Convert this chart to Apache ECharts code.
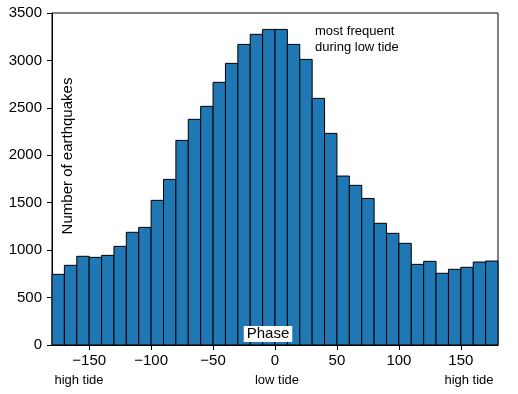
<!DOCTYPE html>
<html>
<head>
<meta charset="utf-8">
<script src="https://cdn.jsdelivr.net/npm/echarts@6/dist/echarts.min.js"></script>
<style>
html,body{margin:0;padding:0;background:#fff;}
#c{width:518px;height:394px;}
</style>
</head>
<body>
<div id="c"></div>
<script>
const binEdges = [-180,-170,-160,-150,-140,-130,-120,-110,-100,-90,-80,-70,-60,-50,-40,-30,-20,-10,0,10,20,30,40,50,60,70,80,90,100,110,120,130,140,150,160,170,180];
const counts = [745,840,935,924,945,1040,1188,1240,1525,1746,2157,2379,2516,2769,2969,3169,3275,3327,3327,3169,3011,2600,2231,1781,1683,1545,1283,1177,1072,850,882,756,798,819,875,885];
const xTicks = [-150,-100,-50,0,50,100,150];
const yTicks = [0,500,1000,1500,2000,2500,3000,3500];
const yAxisTitle = 'Number of earthquakes';
const xAxisTitle = 'Phase';
const annotation = ['most frequent', 'during low tide'];
const phaseLabels = ['high tide', 'low tide', 'high tide'];

const data = counts.map((c, i) => [binEdges[i], binEdges[i + 1], c]);
const FONT = '"Liberation Sans", Arial, Helvetica, sans-serif';

const chart = echarts.init(document.getElementById('c'), null, {renderer: 'canvas'});
chart.setOption({
  animation: false,
  backgroundColor: '#fff',
  grid: {left: 52, right: 20, top: 13, bottom: 49, show: true, borderColor: '#000', borderWidth: 1, backgroundColor: 'transparent'},
  xAxis: {
    type: 'value', min: binEdges[0], max: binEdges[binEdges.length - 1],
    splitLine: {show: false},
    axisLine: {show: true, onZero: false, lineStyle: {color: '#000', width: 1}},
    axisTick: {show: true, length: 5, lineStyle: {color: '#000'}, customValues: xTicks},
    axisLabel: {color: '#000', fontSize: 15, fontFamily: FONT, margin: 8, customValues: xTicks,
      formatter: v => String(v).replace('-', '\u2212')}
  },
  yAxis: {
    type: 'value', min: yTicks[0], max: yTicks[yTicks.length - 1], interval: 500,
    splitLine: {show: false},
    axisLine: {show: true, onZero: false, lineStyle: {color: '#000', width: 1}},
    axisTick: {show: true, length: 5, lineStyle: {color: '#000'}, customValues: yTicks},
    axisLabel: {color: '#000', fontSize: 15, fontFamily: FONT, margin: 10, customValues: yTicks,
      formatter: v => String(v)}
  },
  series: [{
    type: 'custom',
    data: data,
    encode: {x: [0, 1], y: 2},
    renderItem: function (params, api) {
      const p0 = api.coord([api.value(0), api.value(2)]);
      const p1 = api.coord([api.value(1), 0]);
      return {
        type: 'rect',
        shape: {x: p0[0], y: p0[1], width: p1[0] - p0[0], height: p1[1] - p0[1]},
        style: {fill: '#1f77b4', stroke: '#000', lineWidth: 1}
      };
    }
  }],
  graphic: [
    {type: 'text', x: 68, y: 156, rotation: Math.PI / 2, z: 100,
      style: {text: yAxisTitle, fontSize: 15, fontFamily: FONT, fill: '#000', align: 'center', verticalAlign: 'middle'}},
    {type: 'text', x: 268, y: 334, z: 100,
      style: {text: xAxisTitle, fontSize: 15, fontFamily: FONT, fill: '#000', align: 'center', verticalAlign: 'middle',
        backgroundColor: '#fff', padding: [1, 3, 0, 3]}},
    {type: 'text', x: 315, y: 31, z: 100,
      style: {text: annotation[0], fontSize: 13, fontFamily: FONT, fill: '#000', align: 'left', verticalAlign: 'middle'}},
    {type: 'text', x: 315, y: 47, z: 100,
      style: {text: annotation[1], fontSize: 13, fontFamily: FONT, fill: '#000', align: 'left', verticalAlign: 'middle'}},
    {type: 'text', x: 79, y: 380, z: 100,
      style: {text: phaseLabels[0], fontSize: 13, fontFamily: FONT, fill: '#000', align: 'center', verticalAlign: 'middle'}},
    {type: 'text', x: 277, y: 380, z: 100,
      style: {text: phaseLabels[1], fontSize: 13, fontFamily: FONT, fill: '#000', align: 'center', verticalAlign: 'middle'}},
    {type: 'text', x: 469, y: 380, z: 100,
      style: {text: phaseLabels[2], fontSize: 13, fontFamily: FONT, fill: '#000', align: 'center', verticalAlign: 'middle'}}
  ]
});
</script>
</body>
</html>
